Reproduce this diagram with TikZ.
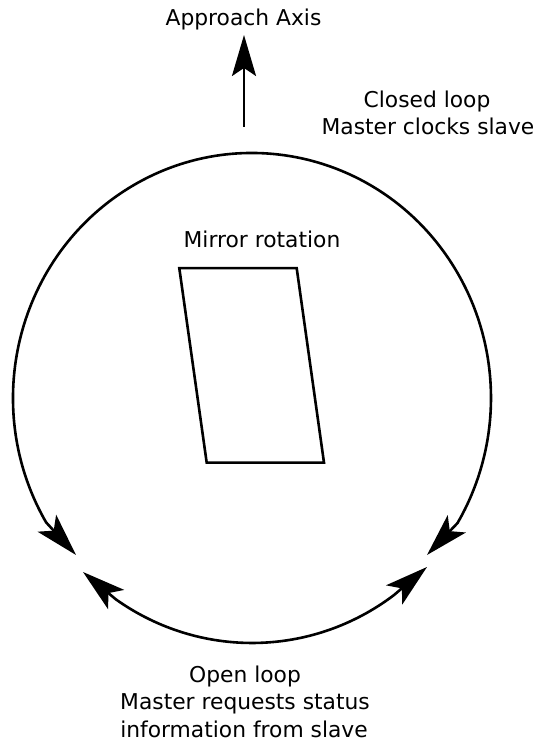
\documentclass[tikz,border=0pt]{standalone}
\usepackage{fontspec}
\setmainfont{DejaVu Sans}
\usetikzlibrary{arrows.meta,calc}
\tikzset{
  lbl/.style={anchor=base, inner sep=0pt, font=\fontsize{21.8}{27}\selectfont},
  thick line/.style={line width=2.6pt},
  bigtip/.style={-{Stealth[length=41pt,width=24pt,inset=8pt]}},
  looptip/.style={{Stealth[length=43pt,width=25pt,inset=10pt]}-{Stealth[length=43pt,width=25pt,inset=10pt]}}
}
\begin{document}
\begin{tikzpicture}[x=1pt,y=1pt]
\useasboundingbox (0,0) rectangle (537,741);
% ellipse centre
\coordinate (C) at (252,343);
% arrow tips of the loops
\coordinate (TL) at (76,186);
\coordinate (TR) at (427,186);
\coordinate (BL) at (83,169);
\coordinate (BR) at (427,174);
% closed loop (upper arc)
\draw[thick line, looptip] (TL) -- ($(C)+(210.5:239 and 245)$)
  arc[start angle=210.5, end angle=-30.7, x radius=239, y radius=245] -- (TR);
% open loop (lower arc)
\draw[thick line, looptip] (BL) -- ($(C)+(235.3:239 and 245)$)
  arc[start angle=235.3, end angle=306.4, x radius=239, y radius=245] -- (BR);
% approach axis
\coordinate (axbase) at (244,614);
\coordinate (axtip) at (244,706);
\draw[thick line, bigtip] (axbase) -- (axtip);
\node[lbl] (approach) at (243.5,715.3) {Approach Axis};
% mirror
\coordinate (m1) at (179.3,472.8);
\coordinate (m2) at (296.7,472.8);
\coordinate (m3) at (324,278.3);
\coordinate (m4) at (206.7,278.3);
\draw[thick line, line join=miter] (m1) -- (m2) -- (m3) -- (m4) -- cycle;
\node[lbl] (mirror) at (262,493) {Mirror rotation};
% labels
\node[lbl] (closed1) at (427,633) {Closed loop};
\node[lbl] (closed2) at (428,606) {Master clocks slave};
\node[lbl] (open1) at (245,58) {Open loop};
\node[lbl] (open2) at (245,31) {Master requests status};
\node[lbl] (open3) at (244,4) {information from slave};
\end{tikzpicture}
\end{document}
